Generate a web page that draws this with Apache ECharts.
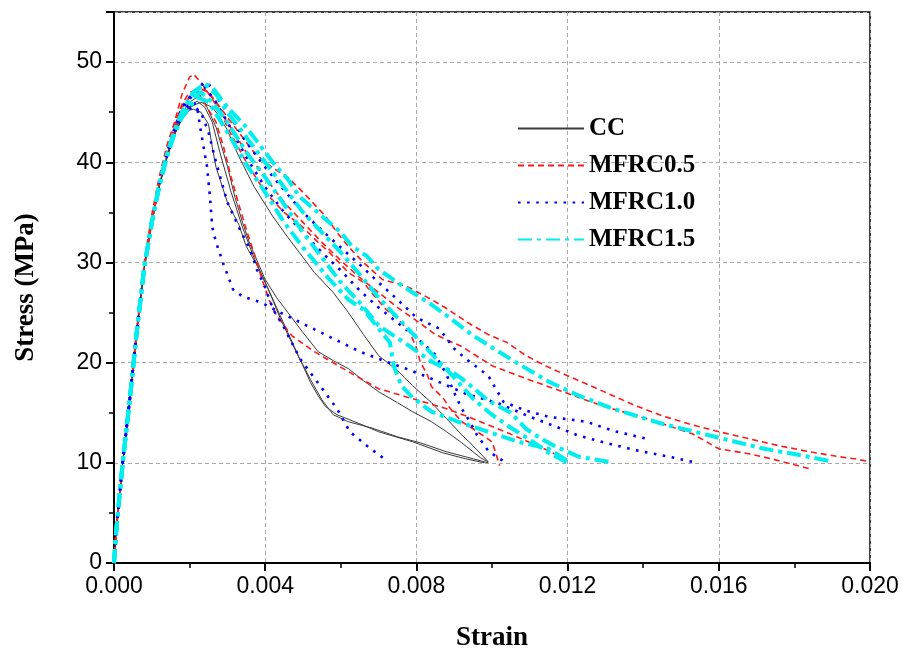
<!DOCTYPE html>
<html>
<head>
<meta charset="utf-8">
<script src="https://cdn.jsdelivr.net/npm/echarts@6/dist/echarts.min.js"></script>
<style>html,body{margin:0;padding:0;background:#fff;}#c{width:906px;height:657px;}</style>
</head>
<body>
<div id="c"></div>
<script>
// ---- data (strain, stress MPa) ----
const seriesNames = ['CC', 'MFRC0.5', 'MFRC1.0', 'MFRC1.5'];
const xTicks = [0, 0.004, 0.008, 0.012, 0.016, 0.020];
const yTicks = [0, 10, 20, 30, 40, 50];

const CC_1 = [[0,0],[0.00005,2.8],[0.00014,6.5],[0.00023,10],[0.00042,16.4],[0.0006,23],[0.0008,29.5],[0.001,34],[0.0012,37.6],[0.0014,40.4],[0.0016,42.8],[0.0018,44.3],[0.002,45.2],[0.0021,45.3],[0.0023,45],[0.0025,43.8],[0.0026,41.5],[0.0027,39.5],[0.003,36],[0.0033,33.8],[0.0035,31.6],[0.0038,29.6],[0.0041,27.2],[0.0044,24.4],[0.0047,22],[0.005,19.7],[0.0052,18],[0.0054,16.7],[0.0056,15.6],[0.0059,14.8],[0.0065,13.9],[0.007,13.1],[0.0079,12.1],[0.0087,11],[0.0093,10.4],[0.0098,10]];
const CC_2 = [[0,0],[0.00005,2.8],[0.00014,6.5],[0.00023,10],[0.00042,16.4],[0.0006,23],[0.0008,29.5],[0.001,34],[0.0012,37.7],[0.0014,40.6],[0.0016,43],[0.0018,44.6],[0.002,45.6],[0.0022,46.1],[0.0024,45.5],[0.0026,44],[0.0028,41],[0.0031,37],[0.0034,33.5],[0.0037,30.5],[0.004,28],[0.0043,25.5],[0.0046,23],[0.0049,20.5],[0.0052,18.3],[0.0055,16.3],[0.0058,14.8],[0.0062,14.1],[0.0068,13.5],[0.0075,12.6],[0.0081,12],[0.0088,11.1],[0.0095,10.4],[0.0099,10]];
const CC_3 = [[0,0],[0.00005,2.8],[0.00014,6.5],[0.00023,10],[0.00042,16.4],[0.0006,23],[0.0008,29.5],[0.001,34],[0.0012,37.8],[0.0014,40.7],[0.0016,43.1],[0.0018,44.9],[0.002,46],[0.0022,46.5],[0.0024,46],[0.0027,43.5],[0.003,39.6],[0.0032,36.5],[0.0034,34],[0.0036,31.8],[0.004,28.3],[0.0043,26.5],[0.0046,25],[0.005,23],[0.0054,21.1],[0.0058,20.2],[0.0062,19.4],[0.0066,18.2],[0.007,17.1],[0.0075,16],[0.0079,15.1],[0.0084,14.1],[0.0088,13.1],[0.0092,12],[0.0095,11.1],[0.0097,10.5],[0.0099,10.1]];
const CC_4 = [[0,0],[0.00005,2.8],[0.00014,6.5],[0.00023,10],[0.00042,16.4],[0.0006,23],[0.0008,29.5],[0.001,34],[0.0012,37.6],[0.0014,40.4],[0.0016,42.7],[0.0018,44.4],[0.002,45.5],[0.0023,46],[0.0026,45.5],[0.0028,44.5],[0.003,43.2],[0.0033,40.6],[0.0037,37.6],[0.0042,34.6],[0.0046,32.5],[0.0049,31],[0.0053,29],[0.0058,27],[0.0062,25],[0.0066,22.8],[0.007,20.7],[0.0075,19.2],[0.0079,17.7],[0.0084,16],[0.0088,14.4],[0.0092,12.8],[0.0095,11.7],[0.0099,10.1]];

const M05_1 = [[0,0],[0.00005,2.8],[0.00014,6.5],[0.00023,10],[0.00042,16.4],[0.0006,23],[0.0008,29.5],[0.001,34.2],[0.0012,38],[0.0014,41.2],[0.0016,43.5],[0.0018,45.5],[0.0021,47],[0.0023,47.3],[0.0025,47],[0.0028,45.5],[0.0031,44],[0.0034,42.5],[0.0037,41],[0.004,40],[0.0043,39.2],[0.0046,38.5],[0.005,37],[0.0053,35.8],[0.0056,34.6],[0.0059,33],[0.0062,31.6],[0.0066,30],[0.0071,28.3],[0.0075,27.9],[0.0078,27.5],[0.0084,26.3],[0.0088,25.4],[0.0094,23.9],[0.0099,22.8],[0.0104,22],[0.0109,20.7],[0.0114,19.7],[0.012,18.7],[0.0126,17.7],[0.0132,16.7],[0.0138,15.7],[0.0145,14.7],[0.0152,13.9],[0.0159,13.2],[0.0168,12.4],[0.0176,11.7],[0.0184,11.1],[0.0192,10.6],[0.0196,10.4],[0.02,10.1]];
const M05_2 = [[0,0],[0.00005,2.9],[0.00014,6.6],[0.00023,10.2],[0.00042,16.6],[0.0006,23.3],[0.0008,30],[0.001,34.8],[0.0012,38.6],[0.0014,41.7],[0.0016,44],[0.0018,46.8],[0.002,48.5],[0.0021,48.8],[0.0023,48],[0.0026,46.3],[0.003,44],[0.0035,41],[0.004,38.5],[0.0045,36],[0.005,34],[0.0055,32],[0.006,30.2],[0.0065,28.5],[0.007,27],[0.0075,25.5],[0.008,24.2],[0.0085,22.8],[0.0092,21.6],[0.01,19.7],[0.0109,18.4],[0.0118,17.2],[0.0129,15.7],[0.0141,14.4],[0.0153,12.9],[0.016,11.4],[0.0168,10.9],[0.0174,10.4],[0.018,9.8],[0.0184,9.4]];
const M05_3 = [[0,0],[0.00005,2.8],[0.00014,6.5],[0.00023,10],[0.00042,16.4],[0.0006,23],[0.0008,29.5],[0.001,34],[0.0012,37.8],[0.0014,40.8],[0.0016,43.2],[0.0018,45.5],[0.0021,47],[0.0024,47.3],[0.0027,46],[0.003,43.5],[0.0035,40],[0.004,37],[0.0045,35],[0.005,33.5],[0.0054,32],[0.0057,31],[0.0062,29],[0.0066,28],[0.0069,26.6],[0.0072,25.3],[0.0075,24.4],[0.0078,23.2],[0.008,21.5],[0.0081,20.1],[0.0083,18.7],[0.0084,17.6],[0.0087,16.5],[0.0089,15.4],[0.0092,14.1],[0.0095,13.4],[0.01,12.1],[0.0101,11],[0.0102,9.7]];
const M05_4 = [[0,0],[0.00005,2.8],[0.00014,6.5],[0.00023,10],[0.00042,16.4],[0.0006,23],[0.0008,29.5],[0.001,34.1],[0.0012,37.9],[0.0014,41],[0.0016,43.8],[0.0018,45.8],[0.002,47],[0.0022,47.2],[0.0023,46.5],[0.0027,44],[0.0029,41.5],[0.0031,38.5],[0.0033,35.8],[0.0035,33.3],[0.0037,31],[0.0039,28.5],[0.0041,26.3],[0.0043,24.7],[0.0047,22.7],[0.0053,21.1],[0.0062,19.1],[0.007,17.4],[0.0079,16.4],[0.0088,15.4],[0.0095,14.4],[0.0106,12.7],[0.0115,11.2],[0.012,10.2]];

const M10_1 = [[0,0],[0.00005,2.8],[0.00014,6.5],[0.00023,10],[0.00042,16.4],[0.0006,23],[0.0008,29.5],[0.001,34],[0.0012,37.8],[0.0014,40.8],[0.0016,43.2],[0.0018,45],[0.002,45.8],[0.0021,46],[0.0022,45.5],[0.00228,43.5],[0.00246,39.6],[0.00254,36.5],[0.0026,33.5],[0.0027,32],[0.0029,29.8],[0.00315,27.3],[0.0034,26.6],[0.0039,26],[0.0044,25],[0.0051,23.7],[0.0058,22.4],[0.0065,21.1],[0.0072,20.1],[0.0078,19.3],[0.0084,18.4],[0.0093,16.9],[0.0102,15.9],[0.011,14.6],[0.0117,13.6],[0.0123,12.7],[0.0132,11.8],[0.014,11.1],[0.0147,10.6],[0.0153,10.1]];
const M10_2 = [[0,0],[0.00005,2.8],[0.00014,6.5],[0.00023,10],[0.00042,16.4],[0.0006,23],[0.0008,29.5],[0.001,34],[0.0012,37.7],[0.0014,40.6],[0.0016,43],[0.0018,44.8],[0.0021,45.6],[0.0023,45],[0.0025,43],[0.0027,40],[0.003,36],[0.00333,33.3],[0.0036,31.3],[0.00378,29.3],[0.004,27.5],[0.00421,25.3],[0.00447,23.7],[0.00492,20.4],[0.00545,17.7],[0.0059,15.4],[0.00624,13.1],[0.00669,11.7],[0.00722,10.2]];
const M10_3 = [[0,0],[0.00005,2.8],[0.00014,6.5],[0.00023,10],[0.00042,16.4],[0.0006,23],[0.0008,29.5],[0.001,34],[0.0012,37.8],[0.0014,40.9],[0.0016,43.4],[0.0018,45.5],[0.0021,47],[0.0024,48],[0.0026,47.5],[0.0028,46],[0.003,45],[0.0035,42],[0.004,39.5],[0.0045,37.2],[0.005,35],[0.0055,33.2],[0.006,31.5],[0.0065,29.8],[0.007,28],[0.0075,26.3],[0.008,24.5],[0.0086,23.4],[0.009,21.4],[0.0093,20.4],[0.0099,18.7],[0.0103,16.1],[0.0109,15.2],[0.0115,14.6],[0.0125,14.1],[0.0132,13.2],[0.0142,12.3]];
const M10_4 = [[0,0],[0.00005,2.8],[0.00014,6.5],[0.00023,10],[0.00042,16.4],[0.0006,23],[0.0008,29.5],[0.001,34],[0.0012,37.8],[0.0014,40.8],[0.0016,43.3],[0.0018,45.3],[0.0021,46.8],[0.0024,47.5],[0.0027,46],[0.003,44],[0.0035,40.5],[0.004,37.5],[0.0045,35],[0.005,33],[0.0055,31],[0.006,29.2],[0.0065,27.2],[0.007,25.5],[0.0075,24],[0.008,22.5],[0.0085,20.8],[0.0088,18.8],[0.009,17],[0.0092,15.4],[0.0094,14.2],[0.0096,12.8],[0.0099,11.2],[0.0102,10.4],[0.0104,10]];

const M15_1 = [[0,0],[0.00005,2.8],[0.00014,6.5],[0.00023,10],[0.00042,16.4],[0.0006,23],[0.0008,29.5],[0.001,34],[0.0012,37.8],[0.0014,40.7],[0.0016,43],[0.0018,45],[0.0021,47],[0.0024,47.8],[0.0026,47.5],[0.0028,46.5],[0.003,45.5],[0.0035,43.5],[0.0039,41.5],[0.0042,40],[0.0046,38.3],[0.0049,36.6],[0.0053,35.3],[0.0056,34.3],[0.006,33],[0.0063,31.6],[0.0067,30.6],[0.007,29.3],[0.0075,28],[0.0079,27],[0.0084,25.8],[0.0088,24.7],[0.0095,22.7],[0.0106,20.1],[0.0115,18.1],[0.0123,16.7],[0.0132,15.4],[0.0145,13.9],[0.0159,12.6],[0.0172,11.4],[0.0181,10.8],[0.0189,10.2]];
const M15_2 = [[0,0],[0.00005,2.8],[0.00014,6.5],[0.00023,10],[0.00042,16.4],[0.0006,23],[0.0008,29.5],[0.001,34],[0.0012,37.7],[0.0014,40.6],[0.0016,43],[0.0018,44.8],[0.0021,46.5],[0.0023,47],[0.0026,46],[0.003,44],[0.0035,41],[0.004,38.5],[0.0045,35.8],[0.005,33],[0.0054,31],[0.0057,29.5],[0.006,28],[0.0065,26],[0.007,23.7],[0.0078,21.7],[0.0084,20.1],[0.0089,19.2],[0.0092,18.4],[0.0095,17.5],[0.0099,16.2],[0.0105,15],[0.0109,13.4],[0.0113,12.4],[0.0117,11.6],[0.0123,10.6],[0.0131,10.1]];
const M15_3 = [[0,0],[0.00005,2.8],[0.00014,6.5],[0.00023,10],[0.00042,16.4],[0.0006,23],[0.0008,29.5],[0.001,34],[0.0012,37.6],[0.0014,40.5],[0.0016,42.8],[0.0018,44.5],[0.0021,46],[0.0022,46.5],[0.0025,46],[0.003,43],[0.0035,39.8],[0.004,37],[0.0045,34],[0.005,31.5],[0.0057,28.3],[0.0062,26.3],[0.0066,25.3],[0.007,23.4],[0.0073,22],[0.0074,19.7],[0.0076,17.7],[0.0079,16.5],[0.0084,15.1],[0.0091,14.1],[0.0099,13.1],[0.0107,12.1],[0.0115,11.4],[0.012,10.2]];
const M15_4 = [[0,0],[0.00005,2.8],[0.00014,6.5],[0.00023,10],[0.00042,16.4],[0.0006,23],[0.0008,29.5],[0.001,34],[0.0012,37.8],[0.0014,40.8],[0.0016,43.2],[0.0018,45],[0.0021,47],[0.0024,47.8],[0.0027,46.8],[0.003,45],[0.0035,42.5],[0.004,40],[0.0045,37.5],[0.005,35],[0.0055,33],[0.006,31],[0.0065,28.8],[0.007,26.5],[0.0075,24.5],[0.008,22.5],[0.0085,20.5],[0.009,18.5],[0.0095,16.4],[0.01,14.8],[0.0105,13.5],[0.011,12.3],[0.0115,11],[0.012,10]];

const groups = [
  { name: 'CC',      curves: [CC_1, CC_2, CC_3, CC_4] },
  { name: 'MFRC0.5', curves: [M05_1, M05_2, M05_3, M05_4] },
  { name: 'MFRC1.0', curves: [M10_1, M10_2, M10_3, M10_4] },
  { name: 'MFRC1.5', curves: [M15_1, M15_2, M15_3, M15_4] }
];

const styles = {
  'CC':      { color: '#3a3a3a', width: 1,   type: 'solid' },
  'MFRC0.5': { color: '#ff1a1a', width: 1.6, type: [6, 4] },
  'MFRC1.0': { color: '#0000ff', width: 2.6, type: [2.6, 6.5] },
  'MFRC1.5': { color: '#00eeee', width: 4,   type: [14, 5, 4, 5] }
};

const series = [];
groups.forEach(g => {
  const st = styles[g.name];
  g.curves.forEach(c => {
    series.push({
      name: g.name, type: 'line', data: c, symbol: 'none', showSymbol: false,
      smooth: false, animation: false, clip: true,
      color: st.color,
      lineStyle: { color: st.color, width: st.width, type: st.type, cap: 'butt' }
    });
  });
});

const chart = echarts.init(document.getElementById('c'), null, { renderer: 'canvas' });
const serif = "'Liberation Serif','Times New Roman',serif";
const sans = "'Liberation Sans',Arial,sans-serif";
chart.setOption({
  backgroundColor: '#fff',
  animation: false,
  grid: { left: 114, right: 36, top: 12, bottom: 92, show: true, borderColor: '#000', borderWidth: 1.5, containLabel: false },
  legend: {
    data: seriesNames, orient: 'vertical', left: 512, top: 111,
    itemWidth: 66, itemHeight: 12, itemGap: 12,
    itemStyle: { opacity: 0 },
    textStyle: { fontFamily: serif, fontWeight: 'bold', fontSize: 25, color: '#000' }
  },
  xAxis: {
    type: 'value', min: 0, max: 0.020, interval: 0.004,
    name: 'Strain', nameLocation: 'middle', nameGap: 62,
    nameTextStyle: { fontFamily: serif, fontWeight: 'bold', fontSize: 27, color: '#000' },
    axisLine: { show: true, onZero: false, lineStyle: { color: '#000', width: 2 } },
    axisTick: { show: true, inside: false, length: 8, lineStyle: { color: '#000', width: 2 } },
    minorTick: { show: true, splitNumber: 2, length: 5, lineStyle: { color: '#000', width: 1.5 } },
    axisLabel: { fontFamily: sans, fontSize: 23, color: '#000', margin: 12, formatter: v => v.toFixed(3) },
    splitLine: { show: true, lineStyle: { color: '#aaaaaa', width: 1, type: [4, 3] } }
  },
  yAxis: {
    type: 'value', min: 0, max: 55, interval: 10,
    name: 'Stress (MPa)', nameLocation: 'middle', nameGap: 74,
    nameTextStyle: { fontFamily: serif, fontWeight: 'bold', fontSize: 27, color: '#000' },
    axisLine: { show: true, onZero: false, lineStyle: { color: '#000', width: 2 } },
    axisTick: { show: true, inside: false, length: 8, lineStyle: { color: '#000', width: 2 } },
    minorTick: { show: true, splitNumber: 2, length: 5, lineStyle: { color: '#000', width: 1.5 } },
    axisLabel: { fontFamily: sans, fontSize: 23, color: '#000', margin: 12,
      formatter: v => (yTicks.indexOf(v) >= 0 ? String(v) : '') },
    splitLine: { show: true, lineStyle: { color: '#aaaaaa', width: 1, type: [4, 3] } }
  },
  series: series
});
</script>
</body>
</html>
